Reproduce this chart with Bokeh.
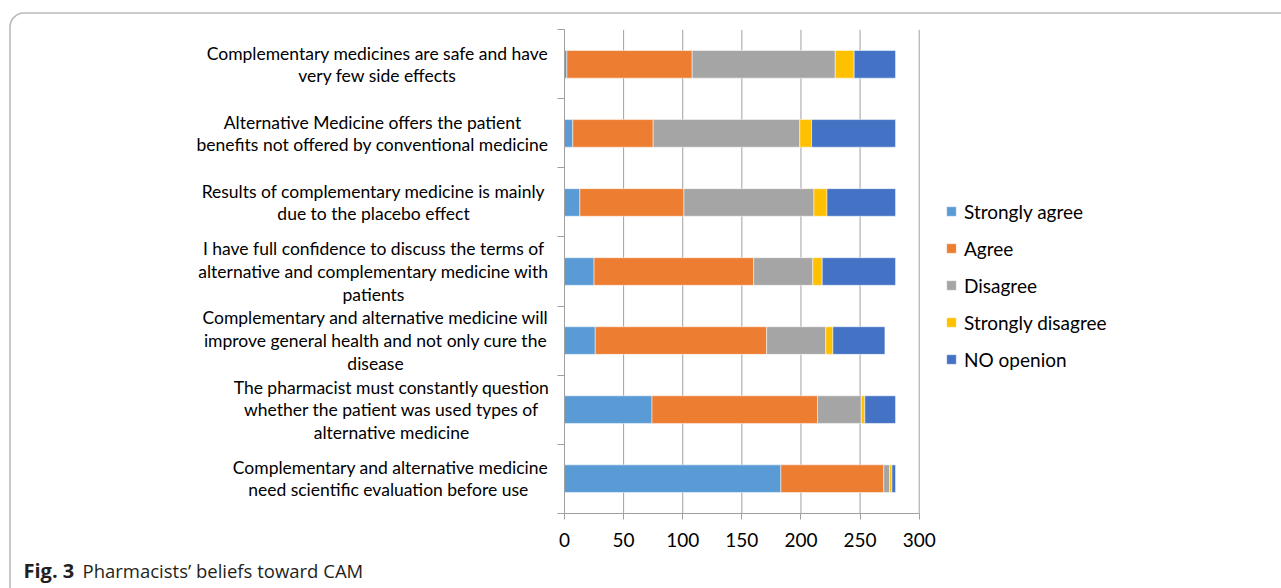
from bokeh.plotting import figure
from bokeh.models import (Range1d, FixedTicker, Legend, LegendItem, Label,
                          BoxAnnotation, ColumnDataSource)
from bokeh.embed import file_html
from bokeh.resources import INLINE
from bokeh.core.properties import value

statements = [
    "Complementary medicines are safe and have\nvery few side effects",
    "Alternative Medicine offers the patient\nbenefits not offered by conventional medicine",
    "Results of complementary medicine is mainly\ndue to the placebo effect",
    "I have full confidence to discuss the terms of\nalternative and complementary medicine with\npatients",
    "Complementary and alternative medicine will\nimprove general health and not only cure the\ndisease",
    "The pharmacist must constantly question\nwhether the patient was used types of\nalternative medicine",
    "Complementary and alternative medicine\nneed  scientific evaluation before use",
]
series_names = ["Strongly agree", "Agree", "Disagree", "Strongly disagree", "NO openion"]
strongly_agree = [2, 7, 13, 25, 26, 74, 183]
agree = [106, 68, 88, 135, 145, 140, 87]
disagree = [121, 124, 110, 50, 50, 37, 5]
strongly_disagree = [16, 10, 11, 8, 6, 3, 2]
no_opinion = [35, 71, 58, 62, 44, 26, 3]
x_ticks = [0, 50, 100, 150, 200, 250, 300]
caption_bold = "Fig. 3"
caption_text = "Pharmacists\u2019 beliefs toward CAM"

colors = ["#5B9BD5", "#ED7D31", "#A5A5A5", "#FFC000", "#4472C4"]
FONT = "Lato"
GRID = "#a0a0a0"

# ---- layout constants (canvas pixels) ----
W, H = 1281, 588
AX_LEFT, AX_RIGHT = 564.0, 918.7      # canvas x of value 0 and 300
AX_TOP, AX_BOTTOM = 29.3, 512.7       # canvas y of category top/bottom
n = len(statements)
sx = (AX_RIGHT - AX_LEFT) / 300.0
sy = (AX_BOTTOM - AX_TOP) / n
x_lo, x_hi = -AX_LEFT / sx, (W - AX_LEFT) / sx
y_lo, y_hi = -(H - AX_BOTTOM) / sy, n + AX_TOP / sy

def px_to_x(cx):
    return (cx - AX_LEFT) / sx

def py_to_y(cy):
    return (AX_BOTTOM - cy) / sy

ypos = [n - i - 0.5 for i in range(n)]  # first statement at top
keys = ["sa", "a", "d", "sd", "no"]
src = ColumnDataSource(dict(y=ypos, sa=strongly_agree, a=agree, d=disagree,
                            sd=strongly_disagree, no=no_opinion))

p = figure(width=W, height=H, x_range=Range1d(x_lo, x_hi), y_range=Range1d(y_lo, y_hi),
           output_backend="svg", toolbar_location=None,
           min_border=0, min_border_left=0, min_border_right=0,
           min_border_top=0, min_border_bottom=0)
p.outline_line_color = None
p.background_fill_color = "white"
p.border_fill_color = "white"
p.xgrid.visible = False
p.ygrid.visible = False

# vertical gridlines (value axis)
p.segment(x0=x_ticks[1:], x1=x_ticks[1:], y0=0, y1=n, line_color=GRID, line_width=1)

rs = p.hbar_stack(keys, y="y", height=0.4, color=colors, source=src,
                  line_color="white", line_width=0.5)

# category axis (boundary tick marks)
ya = p.yaxis[0]
ya.fixed_location = 0
ya.bounds = (0, n)
ya.ticker = FixedTicker(ticks=[], minor_ticks=list(range(n + 1)))
ya.major_tick_out = 0
ya.major_tick_in = 0
ya.minor_tick_out = 7
ya.minor_tick_in = 0
ya.minor_tick_line_color = GRID
ya.axis_line_color = GRID

# value axis
xa = p.xaxis[0]
xa.fixed_location = 0
xa.bounds = (0, 300)
xa.ticker = FixedTicker(ticks=x_ticks)
xa.major_tick_out = 6
xa.major_tick_in = 0
xa.minor_tick_out = 0
xa.minor_tick_in = 0
xa.major_tick_line_color = GRID
xa.axis_line_color = GRID
xa.major_label_standoff = 14
xa.major_label_text_font = FONT
xa.major_label_text_font_size = "19px"
xa.major_label_text_color = "black"

# category labels (centred lines, blocks ending near the axis)
label_cx = [377, 372, 373, 373, 375, 391, 390]  # canvas x of each block centre
p.text(x=[px_to_x(c) for c in label_cx], y=ypos, text=statements,
       text_align="center", text_baseline="middle", text_font=value(FONT),
       text_font_size="17.5px", text_line_height=1.075, text_color="black")

legend = Legend(items=[LegendItem(label=nm, renderers=[r]) for nm, r in zip(series_names, rs)],
                location=(945, H - 377.5), margin=0, padding=0, spacing=0,
                glyph_width=12, glyph_height=12, label_height=37, label_standoff=7,
                label_text_font=FONT, label_text_font_size="19px", label_text_color="black",
                border_line_color=None, background_fill_alpha=0)
p.add_layout(legend, "center")

p.add_layout(Label(x=23, y=H - 570, x_units="screen", y_units="screen", text=caption_bold,
                   text_font="Open Sans", text_font_style="bold", text_baseline="middle",
                   text_font_size="20px", text_color="#231f20"))
p.add_layout(Label(x=82, y=H - 570, x_units="screen", y_units="screen", text=caption_text,
                   text_font="Open Sans", text_font_size="18.5px", text_baseline="middle",
                   text_color="#231f20"))

# rounded frame around the figure panel
p.add_layout(BoxAnnotation(left=px_to_x(9.5), right=px_to_x(W + 40),
                           top=py_to_y(12.5), bottom=py_to_y(H + 40),
                           fill_alpha=0, line_color="#1a1a1a", line_width=1.6,
                           border_radius=14))

open("out.html", "w").write(file_html(p, INLINE))
